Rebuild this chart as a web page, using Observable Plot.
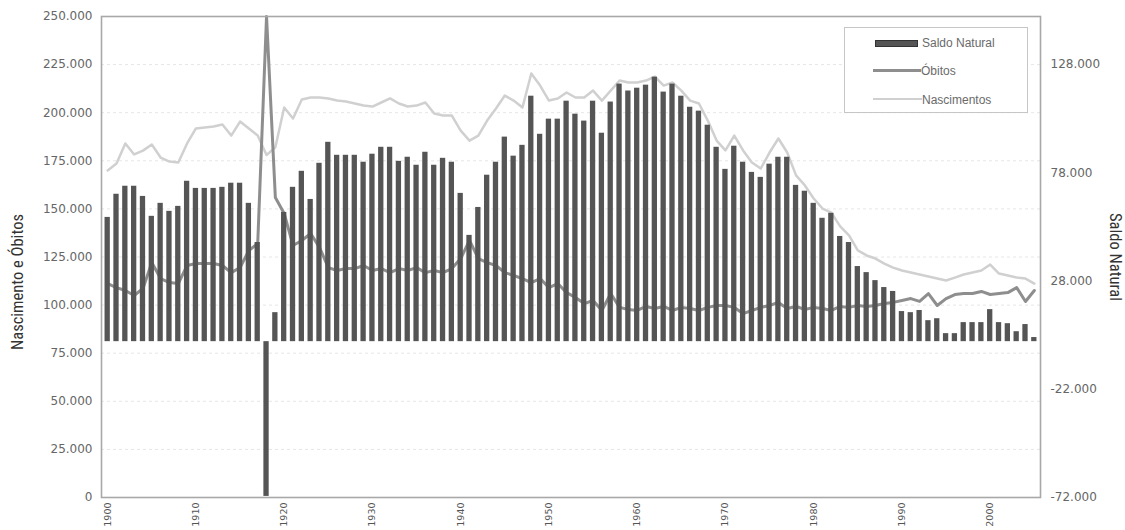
<!DOCTYPE html>
<html>
<head>
<meta charset="utf-8">
<script src="https://cdn.jsdelivr.net/npm/d3@7"></script>
<script src="https://cdn.jsdelivr.net/npm/@observablehq/plot@0.6"></script>
<style>
  body { margin: 0; background: #fff; }
  #wrap { position: relative; width: 1125px; height: 530px; overflow: hidden; }
  .lg { position: absolute; font-family: "Liberation Sans", Arial, sans-serif; font-size: 12px; color: #6a6a6a; line-height: 1; white-space: nowrap; }
</style>
</head>
<body>
<div id="wrap"></div>
<script>
// ---- data ----
const years = d3.range(1900, 2006);

const saldoNatural = [
  57400, 68100, 71800, 71800, 67100, 57900, 63900, 60200, 62500, 74100,
  70800, 70800, 70800, 71300, 73200, 73200, 63900, 45800, -71500, 13400,
  59700, 71300, 78700, 65700, 82400, 92100, 86100, 86100, 86100, 82900,
  86600, 89800, 89800, 83300, 85200, 81500, 87500, 81500, 84700, 82900,
  68500, 49100, 62000, 76900, 82900, 94500, 85700, 90700, 113400, 95800,
  102800, 102800, 111100, 105100, 101900, 111100, 96300, 110700, 119000, 115800,
  117100, 118500, 122200, 115300, 119000, 113400, 108300, 106500, 100000, 89800,
  79600, 90300, 82900, 78200, 75900, 82000, 85200, 85200, 72200, 69500,
  63900, 57000, 59300, 48600, 45800, 34700, 31900, 28200, 25000, 23200,
  13900, 13400, 14400, 9700, 10600, 3700, 3700, 8800, 8800, 8800,
  14800, 8800, 8300, 4600, 7900, 1900
];

const nascimentos = [
  170000, 173600, 184000, 178300, 180300, 183500, 176700, 174600, 174100, 184000,
  191800, 192300, 192800, 193900, 188100, 195400, 191800, 188100, 178000, 182000,
  202700, 197000, 206900, 207900, 207900, 207400, 206300, 205800, 204800, 203700,
  203200, 205300, 207400, 204800, 203200, 203700, 205300, 199600, 198500, 198500,
  190700, 185500, 188100, 195900, 202200, 208900, 206300, 202700, 220400, 214100,
  206300, 207400, 210500, 207900, 207900, 211500, 206300, 211500, 216700, 215700,
  215700, 216700, 218800, 214100, 215700, 211500, 206300, 204800, 195900, 185500,
  180400, 188100, 180400, 174100, 171000, 179300, 186600, 179300, 167400, 162200,
  155400, 150200, 148100, 140900, 136200, 128400, 125800, 124200, 121600, 119500,
  118000, 116900, 115900, 114900, 113800, 112800, 114300, 115900, 116900, 118000,
  121100, 116400, 115400, 114300, 113800, 111200
];

const obitos = [
  111200, 109100, 107600, 105000, 108600, 122100, 113800, 111700, 111200, 120600,
  121600, 121600, 121600, 120600, 116900, 119500, 128400, 132000, 250000, 155900,
  147600, 131000, 133600, 137200, 130000, 119500, 118000, 119000, 119000, 120600,
  118000, 119000, 116900, 119000, 118000, 119500, 116900, 118000, 116900, 119000,
  124200, 133600, 124200, 122100, 120600, 116900, 115400, 113800, 111700, 113800,
  109100, 111200, 106500, 104000, 100800, 102400, 97200, 106000, 98800, 97700,
  97200, 99300, 98200, 99300, 97200, 98800, 98200, 97200, 98800, 99800,
  99800, 98800, 95600, 97200, 98800, 99800, 101400, 98200, 99300, 97700,
  98800, 98200, 97200, 99300, 98800, 99800, 99300, 99800, 100800, 101400,
  102400, 103400, 101900, 106000, 99800, 103400, 105500, 106000, 106000, 107100,
  105500, 106000, 106500, 109100, 101900, 107600
];

const leftTicks = [0, 25000, 50000, 75000, 100000, 125000, 150000, 175000, 200000, 225000, 250000];
const rightTicks = [-72000, -22000, 28000, 78000, 128000];
const yearTicks = [1900, 1910, 1920, 1930, 1940, 1950, 1960, 1970, 1980, 1990, 2000];

const seriesNames = ["Saldo Natural", "Óbitos", "Nascimentos"];
const axisTitles = { left: "Nascimento e Óbitos", right: "Saldo Natural" };

// right (Saldo Natural) axis mapped onto the left scale: -72.000 -> 0, 128.000 -> 225.000
const toLeft = r => (r + 72000) * 225000 / 200000;
const fromLeft = l => l * 200000 / 225000 - 72000;

const fmt = d3.formatLocale({decimal: ",", thousands: ".", grouping: [3], currency: ["", ""], minus: "-"}).format(",");

const rows = years.map((year, i) => ({year, saldo: saldoNatural[i], nasc: nascimentos[i], obitos: obitos[i]}));

const colors = { bar: "#555555", obitos: "#8e8e8e", nasc: "#d0d0d0" };
const titleFont = "'Liberation Sans Narrow', 'Roboto Condensed', 'DejaVu Sans Condensed', 'Liberation Sans', sans-serif";

const chart = Plot.plot({
  width: 1125,
  height: 530,
  marginTop: 16,
  marginBottom: 33,
  marginLeft: 101,
  marginRight: 85,
  style: { fontFamily: "'DejaVu Sans', sans-serif", background: "#fff", overflow: "visible" },
  x: { type: "band", domain: years, padding: 0.4, axis: null },
  y: { domain: [0, 250000], axis: null },
  marks: [
    Plot.ruleY(leftTicks.slice(1, -1), { stroke: "#e6e6e6", strokeDasharray: "3,3" }),
    Plot.line(rows, { x: "year", y: "nasc", stroke: colors.nasc, strokeWidth: 2.5 }),
    Plot.line(rows, { x: "year", y: "obitos", stroke: colors.obitos, strokeWidth: 3 }),
    Plot.barY(rows, { x: "year", y1: () => toLeft(0), y2: d => toLeft(d.saldo), fill: colors.bar }),
    Plot.frame({ stroke: "#a8a8a8", strokeWidth: 1.6 }),
    Plot.axisY(leftTicks, { anchor: "left", tickSize: 0, tickPadding: 9, tickFormat: fmt, fontSize: 12, fill: "#666", label: null }),
    Plot.axisY(rightTicks.map(toLeft), { anchor: "right", tickSize: 0, tickPadding: 10, tickFormat: d => fmt(Math.round(fromLeft(d))), fontSize: 12, fill: "#666", label: null }),
    Plot.axisX(yearTicks, { anchor: "bottom", tickSize: 0, tickPadding: 5, tickRotate: -90, tickFormat: d => String(d), fontSize: 9.5, fill: "#555", label: null }),
    Plot.text([axisTitles.left], { frameAnchor: "left", dx: -84, dy: 25, rotate: -90, textAnchor: "middle", text: d => d, fontSize: 16.5, fill: "#333", fontFamily: titleFont }),
    Plot.text([axisTitles.right], { frameAnchor: "right", dx: 75, dy: 0, rotate: 90, textAnchor: "middle", text: d => d, fontSize: 16.5, fill: "#333", fontFamily: titleFont })
  ]
});

const wrap = document.getElementById("wrap");
wrap.appendChild(chart);

// legend (HTML overlay)
function el(css, text) {
  const d = document.createElement("div");
  d.className = "lg";
  d.style.cssText += css;
  if (text != null) d.textContent = text;
  wrap.appendChild(d);
  return d;
}
el("left:844px;top:27px;width:184px;height:86px;border:1px solid #c6c6c6;background:#fff;box-sizing:border-box;");
el(`left:875px;top:40px;width:43px;height:7px;background:${colors.bar};border:1px solid #333;box-sizing:border-box;`);
el("left:922px;top:37px;", seriesNames[0]);
el(`left:873px;top:69px;width:48px;height:3px;background:${colors.obitos};`);
el("left:921px;top:65px;", seriesNames[1]);
el(`left:873px;top:98px;width:49px;height:2px;background:${colors.nasc};`);
el("left:922px;top:94px;", seriesNames[2]);
</script>
</body>
</html>
